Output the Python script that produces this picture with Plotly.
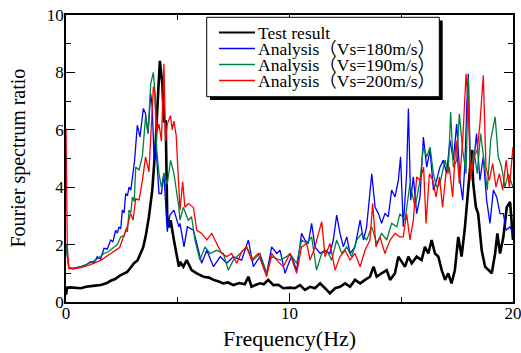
import plotly.graph_objects as go

# ---------------- data ----------------
test_freq = [0.0, 0.05, 0.2, 0.45, 0.66, 0.9, 1.1, 1.3, 1.55, 1.8, 2.0, 2.2, 2.45, 2.6, 2.74, 2.9, 3.04, 3.2, 3.34, 3.45,
             3.56, 3.71, 3.86, 4.01, 4.09, 4.2, 4.31, 4.38, 4.46, 4.53, 4.6, 4.68, 4.83, 5.05, 5.1, 5.25, 5.4, 5.62,
             5.85, 6.15, 6.4, 6.6, 6.8, 7.04, 7.25, 7.49, 7.75, 8.0, 8.16, 8.3, 8.5, 8.68, 8.85, 9.05, 9.28, 9.5,
             9.72, 10.02, 10.24, 10.47, 10.69, 10.92, 11.14, 11.37, 11.59, 11.81, 12.04, 12.26, 12.49, 12.71, 12.93,
             13.16, 13.38, 13.6, 13.76, 13.9, 14.12, 14.35, 14.5, 14.72, 14.87, 15.02, 15.17, 15.32, 15.47, 15.69,
             15.91, 16.06, 16.21, 16.36, 16.51, 16.66, 16.81, 16.96, 17.1, 17.25, 17.4, 17.55, 17.7, 17.85, 17.97,
             18.08, 18.15, 18.22, 18.34, 18.44, 18.6, 18.75, 18.9, 19.05, 19.2, 19.3, 19.42, 19.57, 19.72, 19.87,
             20.0]
test_vals = [0.25, 0.5, 0.51, 0.5, 0.48, 0.53, 0.56, 0.57, 0.59, 0.65, 0.74, 0.8, 0.94, 1.0, 1.05, 1.2, 1.35, 1.45, 1.69,
             1.9, 2.27, 2.97, 3.9, 5.5, 6.8, 8.4, 7.6, 6.3, 6.3, 2.97, 2.6, 2.85, 2.15, 1.23, 1.4, 1.23, 1.46, 1.11,
             1.0, 0.88, 0.85, 0.77, 0.72, 0.65, 0.68, 0.59, 0.66, 0.62, 0.88, 0.53, 0.6, 0.65, 0.62, 0.77, 0.59, 0.6,
             0.48, 0.5, 0.48, 0.59, 0.42, 0.53, 0.48, 0.65, 0.48, 0.3, 0.48, 0.53, 0.65, 0.53, 0.77, 0.65, 0.77,
             0.88, 1.23, 0.88, 1.0, 1.11, 0.77, 1.0, 1.58, 1.4, 1.23, 1.58, 1.35, 1.58, 1.46, 1.92, 1.69, 2.16, 1.69,
             1.58, 1.11, 0.77, 1.0, 0.65, 1.11, 2.27, 1.58, 2.62, 3.66, 4.7, 5.3, 4.13, 3.3, 3.08, 1.8, 1.23, 1.11,
             1.0, 1.69, 2.39, 1.69, 2.27, 3.3, 3.49, 2.16]

vs180_freq = [0.0, 0.12, 0.3, 0.66, 0.9, 1.1, 1.25, 1.4, 1.55, 1.7, 1.85, 2.0, 2.1, 2.22, 2.3, 2.37, 2.45, 2.52, 2.6,
              2.67, 2.75, 2.82, 2.9, 2.97, 3.07, 3.19, 3.31, 3.46, 3.56, 3.67, 3.79, 3.86, 3.94, 4.01, 4.09, 4.16,
              4.27, 4.38, 4.53, 4.65, 4.83, 5.05, 5.1, 5.28, 5.43, 5.7, 5.85, 6.07, 6.3, 6.6, 6.9, 7.19, 7.49, 7.86,
              8.16, 8.38, 8.68, 8.98, 9.2, 9.43, 9.58, 9.8, 10.02, 10.1, 10.32, 10.54, 10.69, 10.84, 10.99, 11.14,
              11.37, 11.59, 11.81, 11.96, 12.11, 12.26, 12.41, 12.56, 12.71, 12.93, 13.16, 13.31, 13.45, 13.68,
              13.83, 13.98, 14.12, 14.27, 14.42, 14.57, 14.72, 14.87, 14.97, 15.09, 15.24, 15.32, 15.42, 15.54,
              15.69, 15.84, 15.99, 16.14, 16.29, 16.44, 16.58, 16.73, 16.88, 17.03, 17.18, 17.33, 17.48, 17.63,
              17.75, 17.85, 17.93, 18.0, 18.08, 18.22, 18.37, 18.52, 18.67, 18.82, 18.97, 19.12, 19.27, 19.42,
              19.57, 19.69, 19.87, 20.0]
vs180_vals = [2.0, 1.2, 1.17, 1.23, 1.3, 1.4, 1.37, 1.58, 1.5, 1.87, 1.85, 2.16, 2.1, 2.5, 2.4, 2.62, 2.55, 3.2, 3.1,
              3.78, 3.7, 4.0, 3.9, 4.36, 4.94, 6.16, 5.75, 6.74, 6.56, 5.87, 7.26, 6.8, 4.94, 5.63, 4.47, 3.78, 3.78,
              4.47, 2.45, 3.03, 3.2, 2.62, 2.74, 1.92, 2.62, 2.5, 2.04, 1.35, 1.8, 1.23, 1.58, 1.35, 1.58, 1.46, 2.16,
              1.23, 1.58, 1.0, 1.92, 1.69, 1.8, 1.0, 1.46, 1.58, 1.1, 2.39, 2.16, 2.04, 2.74, 1.92, 1.69, 1.8, 1.69,
              2.16, 3.03, 2.39, 1.92, 2.27, 1.69, 1.92, 2.85, 2.16, 2.62, 4.47, 3.3, 3.08, 2.74, 3.08, 2.97, 3.9,
              3.66, 4.24, 5.06, 2.62, 4.47, 6.74, 3.55, 4.36, 3.08, 3.66, 5.75, 4.7, 5.29, 3.9, 4.24, 4.7, 4.94,
              4.47, 5.63, 4.94, 6.2, 4.24, 3.55, 4.82, 6.8, 7.95, 4.94, 4.7, 5.87, 4.24, 5.06, 3.55, 2.74, 3.9,
              3.66, 3.08, 3.08, 2.5, 2.62, 2.39]

vs190_freq = [0.0, 0.12, 0.3, 0.66, 1.1, 1.4, 1.7, 1.9, 2.15, 2.3, 2.45, 2.6, 2.67, 2.75, 2.82, 2.9, 2.97, 3.05,
              3.12, 3.27, 3.42, 3.56, 3.67, 3.79, 3.91, 3.97, 4.06, 4.16, 4.27, 4.38, 4.53, 4.68, 4.83, 5.05, 5.1,
              5.25, 5.47, 5.62, 5.77, 5.99, 6.22, 6.44, 6.74, 7.04, 7.26, 7.49, 7.79, 8.08, 8.38, 8.68, 8.98, 9.2,
              9.58, 9.87, 10.02, 10.32, 10.54, 10.77, 10.99, 11.21, 11.44, 11.66, 11.89, 12.11, 12.34, 12.56, 12.78,
              13.01, 13.23, 13.45, 13.68, 13.9, 14.12, 14.35, 14.57, 14.8, 14.94, 15.17, 15.39, 15.62, 15.84, 15.99,
              16.14, 16.29, 16.44, 16.58, 16.73, 16.96, 17.1, 17.21, 17.33, 17.48, 17.6, 17.75, 17.9, 18.0, 18.1,
              18.25, 18.4, 18.55, 18.7, 18.85, 19.0, 19.2, 19.34, 19.49, 19.64, 19.79, 20.0]
vs190_vals = [2.0, 1.2, 1.17, 1.22, 1.37, 1.5, 1.69, 1.75, 1.92, 2.0, 2.27, 2.3, 2.5, 2.45, 3.2, 3.1, 3.66, 3.5, 4.7,
              4.6, 5.1, 6.45, 5.87, 7.6, 8.0, 7.4, 5.3, 4.47, 4.0, 4.5, 4.1, 4.94, 4.47, 3.3, 2.85, 3.3, 2.85, 2.97,
              2.16, 1.46, 1.92, 1.69, 1.8, 1.69, 1.11, 1.46, 1.69, 1.92, 1.46, 1.69, 1.0, 1.58, 1.46, 1.58, 1.69,
              1.35, 2.16, 2.04, 2.27, 1.11, 1.69, 1.8, 1.46, 2.16, 1.69, 1.92, 1.58, 2.16, 2.39, 2.16, 2.62, 2.04,
              2.39, 2.16, 2.74, 2.62, 3.08, 2.85, 4.13, 3.3, 4.24, 5.4, 5.06, 5.4, 4.47, 4.0, 4.13, 4.94, 4.47, 6.62,
              4.7, 4.94, 6.56, 5.29, 4.47, 7.84, 4.47, 5.29, 4.47, 5.87, 4.94, 3.9, 5.63, 6.45, 5.06, 4.7, 4.0, 4.47,
              4.0]

vs200_freq = [0.0, 0.06, 0.13, 0.3, 0.66, 1.1, 1.55, 2.0, 2.4, 2.52, 2.74, 2.89, 3.0, 3.12, 3.27, 3.42, 3.56, 3.71,
              3.82, 3.91, 3.98, 4.06, 4.16, 4.27, 4.38, 4.46, 4.53, 4.68, 4.75, 4.83, 4.93, 5.05, 5.1, 5.22, 5.32,
              5.47, 5.7, 5.85, 6.07, 6.3, 6.52, 6.74, 6.97, 7.19, 7.41, 7.64, 7.86, 8.08, 8.3, 8.6, 8.98, 9.2, 9.43,
              9.72, 10.02, 10.32, 10.54, 10.77, 10.92, 11.14, 11.44, 11.59, 11.81, 12.04, 12.26, 12.49, 12.71,
              12.93, 13.16, 13.38, 13.6, 13.72, 13.87, 14.05, 14.27, 14.5, 14.72, 14.94, 15.09, 15.24, 15.39,
              15.54, 15.69, 15.84, 16.0, 16.11, 16.26, 16.41, 16.56, 16.71, 16.85, 17.0, 17.15, 17.3, 17.45, 17.6,
              17.75, 17.9, 18.0, 18.1, 18.25, 18.4, 18.52, 18.67, 18.79, 18.94, 19.09, 19.24, 19.39, 19.54, 19.69,
              19.84, 20.0]
vs200_vals = [6.04, 1.92, 1.17, 1.15, 1.2, 1.3, 1.45, 1.7, 1.9, 2.16, 2.62, 3.08, 2.85, 3.6, 3.55, 4.24, 5.06, 4.53,
              6.45, 7.5, 7.26, 5.9, 6.2, 5.6, 8.3, 5.6, 6.2, 6.5, 6.0, 6.3, 5.8, 4.0, 3.2, 4.19, 3.3, 3.43, 3.3, 2.5,
              2.39, 2.16, 2.39, 2.04, 1.69, 1.58, 1.69, 1.35, 1.75, 1.92, 1.46, 1.69, 0.88, 1.69, 1.46, 1.23, 1.69,
              1.0, 1.92, 2.04, 1.46, 1.92, 2.8, 1.58, 2.04, 1.11, 1.58, 1.8, 1.46, 1.69, 1.23, 1.8, 2.16, 3.43, 1.92,
              2.27, 1.69, 2.16, 2.39, 2.27, 2.27, 3.08, 2.16, 2.85, 4.36, 4.24, 4.7, 2.74, 4.47, 4.24, 3.66, 4.36,
              3.3, 4.47, 4.7, 3.66, 5.63, 4.13, 5.63, 7.95, 6.8, 4.24, 5.06, 5.29, 6.2, 7.9, 4.7, 4.24, 4.82, 4.0,
              4.47, 3.9, 4.94, 4.0, 5.4]

legend_labels = ["Test result", "Analysis（Vs=180m/s）", "Analysis（Vs=190m/s）", "Analysis（Vs=200m/s）"]
x_ticks = [0, 10, 20]
y_ticks = [0, 2, 4, 6, 8, 10]

# ---------------- figure ----------------
W, H = 521, 353
L, R, T, B = 66, 8, 15, 51
PW, PH = W - L - R, H - T - B

def px(x):
    return (x - L) / PW

def py(y):
    return (H - B - y) / PH

SERIF = "Liberation Serif, Times New Roman, Noto Sans CJK JP, serif"

fig = go.Figure()
series = [
    (test_freq, test_vals, "black", 2.6),
    (vs180_freq, vs180_vals, "#0000ff", 1.3),
    (vs190_freq, vs190_vals, "#008040", 1.3),
    (vs200_freq, vs200_vals, "#ff0000", 1.3),
]
for (f, v, c, w), name in zip(series, legend_labels):
    fig.add_trace(go.Scatter(x=f, y=v, mode="lines", name=name,
                             line=dict(color=c, width=w), showlegend=False))

axis_common = dict(
    showline=True, linecolor="black", linewidth=1.5, mirror="allticks",
    ticks="inside", ticklen=9, tickwidth=1.2, tickcolor="black",
    showgrid=False, zeroline=False, automargin=False, ticklabeloverflow="allow",
    tickfont=dict(family=SERIF, size=17, color="black"),
)
fig.update_xaxes(range=[0, 20], tickvals=x_ticks, ticklabelstandoff=-5,
                 minor=dict(ticks="inside", ticklen=5, tickwidth=1.2, tickcolor="black", dtick=5, tick0=0),
                 **axis_common)
fig.update_yaxes(range=[0, 10], tickvals=y_ticks, ticklabelstandoff=-3,
                 minor=dict(ticks="inside", ticklen=5, tickwidth=1.2, tickcolor="black", dtick=1, tick0=0),
                 **axis_common)

# manual legend box (with shadow)
shapes = [
    dict(type="rect", xref="paper", yref="paper", x0=px(210), x1=px(442.7), y0=py(100), y1=py(20.5),
         fillcolor="black", line=dict(width=0), layer="above"),
    dict(type="rect", xref="paper", yref="paper", x0=px(206.7), x1=px(439.3), y0=py(96.7), y1=py(17.3),
         fillcolor="white", line=dict(color="black", width=1), layer="above"),
]
rows = [32.5, 48.5, 64.5, 80.5]
annotations = []
for (f, v, c, w), name, ry in zip(series, legend_labels, rows):
    shapes.append(dict(type="line", xref="paper", yref="paper", x0=px(219), x1=px(255), y0=py(ry), y1=py(ry),
                       line=dict(color=c, width=2 if c == "black" else 1.3), layer="above"))
    annotations.append(dict(xref="paper", yref="paper", x=px(256), y=py(ry + 0.5), text=name, showarrow=False,
                            xanchor="left", yanchor="middle",
                            font=dict(family=SERIF, size=17.5, color="black")))

annotations.append(dict(xref="paper", yref="paper", x=0.5, y=py(338), text="Frequency(Hz)", showarrow=False,
                        xanchor="center", yanchor="middle", font=dict(family=SERIF, size=22, color="black")))
annotations.append(dict(xref="paper", yref="paper", x=px(17.5), y=py(158), text="Fourier spectrum ratio",
                        showarrow=False, textangle=-90, xanchor="center", yanchor="middle",
                        font=dict(family=SERIF, size=20, color="black")))

fig.update_layout(
    width=W, height=H, margin=dict(l=L, r=R, t=T, b=B, autoexpand=False),
    paper_bgcolor="white", plot_bgcolor="white",
    shapes=shapes, annotations=annotations, showlegend=False,
)

fig.write_html("out.html")
